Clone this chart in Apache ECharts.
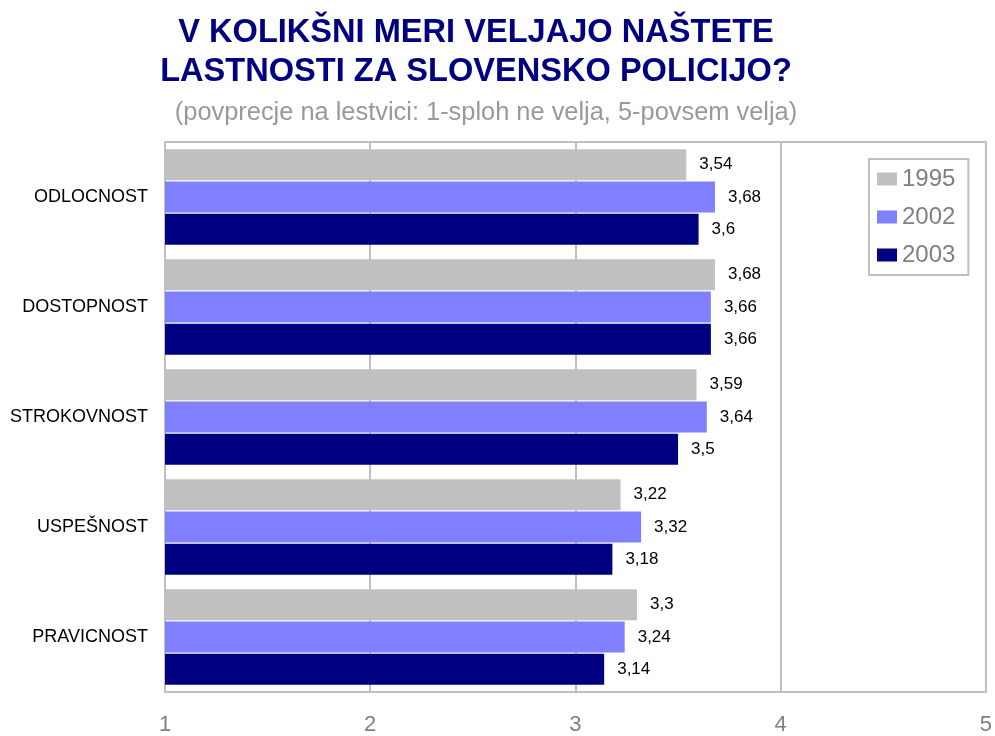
<!DOCTYPE html>
<html>
<head>
<meta charset="utf-8">
<script src="https://cdn.jsdelivr.net/npm/echarts@6/dist/echarts.min.js"></script>
<style>
  html, body { margin: 0; padding: 0; background: #fff; }
  #chart { width: 995px; height: 736px; }
</style>
</head>
<body>
<div id="chart"></div>
<script>
// kategorije (od zgoraj navzdol)
var categories = ['ODLOCNOST', 'DOSTOPNOST', 'STROKOVNOST', 'USPEŠNOST', 'PRAVICNOST']
var years = ['1995', '2002', '2003']
var v1995 = [3.54, 3.68, 3.59, 3.22, 3.3]
var v2002 = [3.68, 3.66, 3.64, 3.32, 3.24]
var v2003 = [3.6, 3.66, 3.5, 3.18, 3.14]
var tickLabels = [1, 2, 3, 4, 5]
var colors = ['#c0c0c0', '#8080ff', '#000080']

var font = 'Arial, "Liberation Sans", sans-serif'

function makeSeries (name, data, color) {
  return {
    name: name,
    type: 'bar',
    data: data,
    barWidth: 31,
    barGap: '4%',
    itemStyle: { color: color },
    label: {
      show: true,
      position: 'right',
      distance: 13,
      color: '#000',
      fontSize: 17,
      fontFamily: font,
      formatter: function (p) {
        return String(p.value).replace('.', ',')
      }
    }
  }
}

function titleLine (text, y) {
  return {
    type: 'text',
    x: 476,
    y: y,
    style: {
      text: text,
      font: 'bold 32.6px ' + font,
      fill: '#000080',
      textAlign: 'center',
      textVerticalAlign: 'middle'
    }
  }
}

var myChart = echarts.init(document.getElementById('chart'))
var option = {
  animation: false,
  color: colors,
  graphic: [
    titleLine('V KOLIKŠNI MERI VELJAJO NAŠTETE', 33),
    titleLine('LASTNOSTI ZA SLOVENSKO POLICIJO?', 72),
    {
      type: 'text',
      x: 486,
      y: 113,
      style: {
        text: '(povprecje na lestvici: 1-sploh ne velja, 5-povsem velja)',
        font: '25.4px ' + font,
        fill: '#999999',
        textAlign: 'center',
        textVerticalAlign: 'middle'
      }
    }
  ],
  legend: {
    data: years,
    orient: 'vertical',
    left: 869,
    top: 159,
    padding: [8, 13, 8, 8],
    itemWidth: 20,
    itemHeight: 13,
    itemGap: 14,
    borderColor: '#c0c0c0',
    borderWidth: 2,
    backgroundColor: '#fff',
    icon: 'rect',
    textStyle: { color: '#808080', fontSize: 24, fontFamily: font }
  },
  grid: {
    left: 165,
    right: 8,
    top: 142,
    bottom: 43,
    show: true,
    borderColor: '#c0c0c0',
    borderWidth: 2
  },
  xAxis: {
    type: 'value',
    min: 1,
    max: 5,
    interval: 1,
    axisLine: { show: false },
    axisTick: { show: false },
    splitLine: { lineStyle: { color: '#c0c0c0', width: 2 } },
    axisLabel: {
      color: '#808080',
      fontSize: 22,
      fontFamily: font,
      margin: 22,
      formatter: function (v) {
        return tickLabels.indexOf(v) >= 0 ? String(v) : ''
      }
    }
  },
  yAxis: {
    type: 'category',
    data: categories,
    inverse: true,
    axisLine: { show: false },
    axisTick: { show: false },
    axisLabel: { color: '#000', fontSize: 18, fontFamily: font, margin: 17 }
  },
  series: [
    makeSeries(years[0], v1995, colors[0]),
    makeSeries(years[1], v2002, colors[1]),
    makeSeries(years[2], v2003, colors[2])
  ]
}
myChart.setOption(option)
</script>
</body>
</html>
